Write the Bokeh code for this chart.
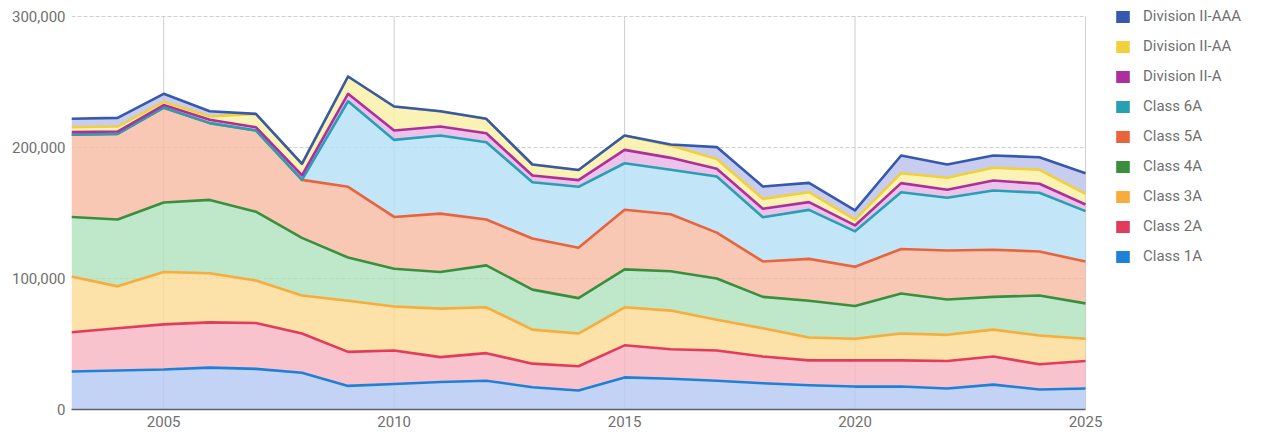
from bokeh.plotting import figure
from bokeh.models import (ColumnDataSource, Legend, LegendItem, NumeralTickFormatter,
                          FixedTicker, Range1d)
from bokeh.transform import stack
from bokeh.embed import file_html
from bokeh.resources import INLINE

years = list(range(2003, 2026))

class_1a = [29000, 29800, 30500, 32000, 31000, 28000, 18000, 19500, 21000, 22000, 17000, 14500,
            24500, 23500, 22000, 20000, 18500, 17500, 17500, 16000, 19000, 15300, 16000]
class_2a = [30000, 32200, 34500, 34500, 35000, 30000, 26000, 25500, 19000, 21000, 18000, 18500,
            24500, 22500, 23000, 20500, 19000, 20000, 20000, 21000, 21500, 19200, 21000]
class_3a = [42500, 32000, 40000, 37500, 32500, 29000, 39000, 33600, 37000, 35000, 26000, 25000,
            29000, 29500, 23500, 21500, 17500, 16500, 20500, 20000, 20500, 22000, 17000]
class_4a = [45500, 51000, 53000, 56000, 52500, 44000, 33000, 28900, 28000, 32000, 30500, 27000,
            29000, 30000, 31500, 24000, 28000, 25000, 30500, 27000, 25000, 30500, 27000]
class_5a = [62700, 65400, 72400, 58600, 62000, 44300, 54000, 39500, 44500, 35000, 39000, 38500,
            45500, 43500, 35000, 27000, 32000, 30000, 34000, 37400, 36000, 33600, 32000]
class_6a = [0, 0, 0, 0, 0, 0, 65300, 58800, 59700, 59000, 43000, 46500,
            35500, 34000, 42900, 33800, 37400, 27000, 43400, 40200, 45200, 44800, 38400]
div2_a = [2000, 1800, 2000, 2600, 2500, 3500, 5700, 7200, 6800, 6900, 5100, 5100,
          10200, 9100, 5800, 6400, 5900, 4500, 6900, 6100, 7600, 6900, 5100]
div2_aa = [3800, 3800, 2500, 2500, 10200, 8700, 13200, 18300, 11700, 11000, 8400, 7700,
           11000, 9400, 7600, 7600, 7600, 4500, 7600, 9200, 9700, 10700, 8100]
div2_aaa = [6500, 6600, 6100, 4000, 0, 0, 0, 0, 0, 0, 0, 0,
            0, 800, 9000, 9400, 7100, 7000, 13500, 10100, 9400, 9600, 15800]

keys = ["class_1a", "class_2a", "class_3a", "class_4a", "class_5a", "class_6a",
        "div2_a", "div2_aa", "div2_aaa"]
labels = ["Class 1A", "Class 2A", "Class 3A", "Class 4A", "Class 5A", "Class 6A",
          "Division II-A", "Division II-AA", "Division II-AAA"]
line_colors = ["#1f80d8", "#e23c5c", "#f8ac3c", "#3a8f3f", "#e8643d", "#27a0b3",
               "#ad2f9e", "#f0d13c", "#3459ae"]
fill_colors = ["#b4c8f2", "#f6b4bf", "#fbdb92", "#afe1bb", "#f6baa2", "#b4def6",
               "#e7b3e5", "#f9f0a2", "#babfeb"]
x_ticks = [2005, 2010, 2015, 2020, 2025]
y_ticks = [0, 100000, 200000, 300000]

X0, X1 = years[0], years[-1]
Y0, Y1 = 0, 300000
LEFT, TOP_PAD, BOTTOM, W, H = 71, 16, 26, 1263, 435
plot_w = 1014                      # pixel width of the 2003-2025 span
plot_h = H - BOTTOM - TOP_PAD      # pixel height of the 0-300,000 span
frame_w = W - LEFT
frame_h = H - BOTTOM
x_end = X0 + (X1 - X0) * frame_w / plot_w
y_end = Y1 * frame_h / plot_h

src = ColumnDataSource(dict(year=years, class_1a=class_1a, class_2a=class_2a, class_3a=class_3a,
                            class_4a=class_4a, class_5a=class_5a, class_6a=class_6a,
                            div2_a=div2_a, div2_aa=div2_aa, div2_aaa=div2_aaa))

p = figure(width=W, height=H, output_backend="svg", toolbar_location=None, title=None,
           x_range=Range1d(X0, x_end), y_range=Range1d(Y0, y_end),
           min_border_left=LEFT, min_border_right=0, min_border_top=0,
           min_border_bottom=BOTTOM)
p.outline_line_color = None
p.background_fill_color = "white"
p.xgrid.visible = False
p.ygrid.visible = False

# grid lines limited to the data area
p.segment(x0=x_ticks, x1=x_ticks, y0=[Y0] * len(x_ticks), y1=[Y1] * len(x_ticks),
          line_color="#cfcfcf", line_width=1)
p.segment(x0=[X0] * 3, x1=[X1] * 3, y0=y_ticks[1:], y1=y_ticks[1:],
          line_color="#cfcfcf", line_width=1, line_dash="4 2")

p.varea_stack(stackers=keys, x="year", source=src, fill_color=fill_colors, fill_alpha=0.8)
for i in range(len(keys)):
    p.line(x="year", y=stack(*keys[:i + 1]), source=src, line_color=line_colors[i],
           line_width=2.6, line_join="round")

# axes
for ax in (p.xaxis[0], p.yaxis[0]):
    ax.major_tick_line_color = None
    ax.minor_tick_line_color = None
    ax.major_tick_out = 0
    ax.major_tick_in = 0
    ax.major_label_text_font = "Roboto"
    ax.major_label_text_font_size = "15px"
    ax.major_label_text_color = "#707070"
p.yaxis.major_label_standoff = 6
p.xaxis.major_label_standoff = 6
p.xaxis.ticker = FixedTicker(ticks=x_ticks)
p.yaxis.ticker = FixedTicker(ticks=y_ticks)
p.yaxis.formatter = NumeralTickFormatter(format="0,0")
p.yaxis.axis_line_color = None
p.xaxis.axis_line_color = "#606060"
p.xaxis.axis_line_width = 1.5
p.xaxis.bounds = (X0, X1)

# legend
items = []
for i in range(len(keys) - 1, -1, -1):
    r = p.varea(x=[X0, X0], y1=[0, 0], y2=[0, 0], fill_color=line_colors[i], fill_alpha=1.0)
    items.append(LegendItem(label=labels[i], renderers=[r]))
legend = Legend(items=items, location=(1043, 143), orientation="vertical")
legend.border_line_color = None
legend.background_fill_alpha = 0
legend.padding = 0
legend.margin = 0
legend.spacing = 10
legend.label_height = 20
legend.glyph_height = 15
legend.glyph_width = 17
legend.label_standoff = 12
legend.label_text_font = "Roboto"
legend.label_text_font_size = "15px"
legend.label_text_color = "#707070"
legend.label_text_baseline = "middle"
p.add_layout(legend)

open("out.html", "w").write(file_html(p, INLINE))
